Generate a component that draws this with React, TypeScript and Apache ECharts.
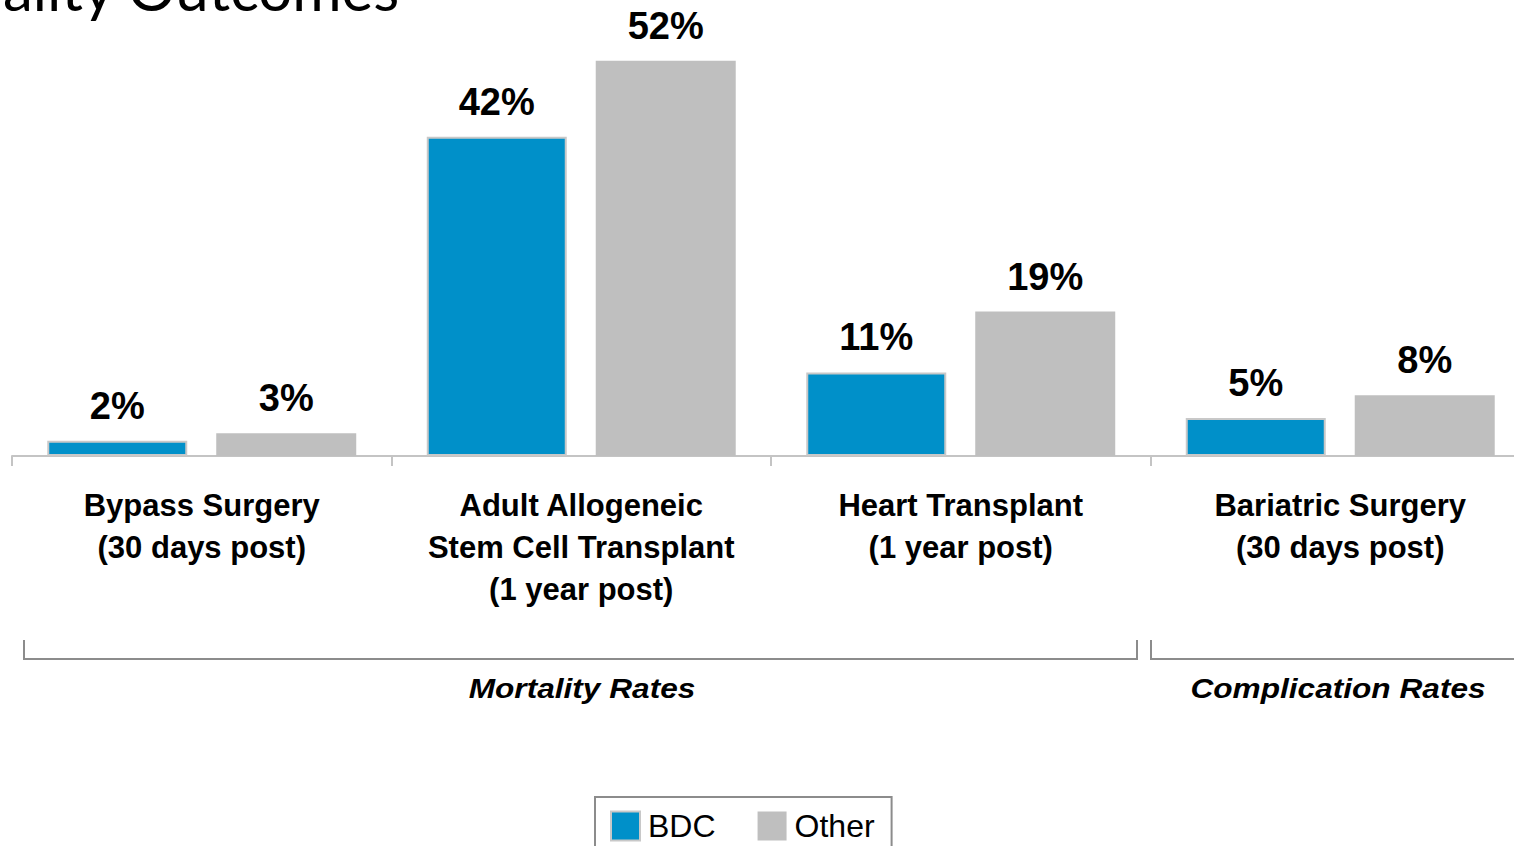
import React, { useEffect, useRef } from "react";
import * as echarts from "echarts";

const categories = [
  "Bypass Surgery\n(30 days post)",
  "Adult Allogeneic\nStem Cell Transplant\n(1 year post)",
  "Heart Transplant\n(1 year post)",
  "Bariatric Surgery\n(30 days post)",
];
const bdcValues = [2, 42, 11, 5];
const otherValues = [3, 52, 19, 8];
const seriesNames = ["BDC", "Other"];
const groupLabels = ["Mortality Rates", "Complication Rates"];
const titleText = "Quality Outcomes";

const FONT = "'Liberation Sans', Arial, Helvetica, sans-serif";

export default function App() {
  const ref = useRef<HTMLDivElement>(null);
  useEffect(() => {
    if (!ref.current) return;
    const chart = echarts.init(ref.current, null, { renderer: "svg" });
    const labelStyle = {
      show: true,
      position: "top",
      distance: 16,
      formatter: "{c}%",
      fontFamily: FONT,
      fontSize: 38,
      fontWeight: "bold",
      color: "#000",
    };
    const bracketStyle = { stroke: "#8c8c8c", lineWidth: 2, fill: null };
    const groupTextStyle = {
      fontFamily: FONT,
      fontSize: 28,
      fontWeight: "bold",
      fontStyle: "italic",
      fill: "#000",
      align: "center",
      verticalAlign: "middle",
    };
    chart.setOption({
      animation: false,
      backgroundColor: "#fff",
      textStyle: { fontFamily: FONT },
      grid: { left: 12, right: 0, top: 0, bottom: 390, containLabel: false },
      legend: {
        data: seriesNames,
        left: 595,
        top: 797,
        orient: "horizontal",
        itemWidth: 29,
        itemHeight: 29,
        itemGap: 42,
        icon: "rect",
        borderColor: "#8c8c8c",
        borderWidth: 2,
        padding: [13, 17, 13, 15],
        textStyle: {
          fontFamily: FONT,
          fontSize: 32,
          color: "#000",
          padding: [0, 0, 0, 3],
        },
      },
      xAxis: {
        type: "category",
        data: categories,
        axisLine: { show: true, lineStyle: { color: "#c4c4c4", width: 2 } },
        axisTick: {
          show: true,
          alignWithLabel: false,
          length: 10,
          lineStyle: { color: "#c4c4c4", width: 2 },
        },
        axisLabel: {
          interval: 0,
          margin: 28,
          fontFamily: FONT,
          fontSize: 31,
          fontWeight: "bold",
          lineHeight: 42,
          color: "#000",
        },
      },
      yAxis: {
        type: "value",
        min: 0,
        max: 60,
        show: false,
        splitLine: { show: false },
      },
      series: [
        {
          name: seriesNames[0],
          type: "bar",
          data: bdcValues,
          barWidth: 140,
          barGap: "20.7%",
          itemStyle: { color: "#0090c9", borderColor: "#c8c8c8", borderWidth: 2 },
          label: labelStyle,
        },
        {
          name: seriesNames[1],
          type: "bar",
          data: otherValues,
          barWidth: 140,
          barGap: "20.7%",
          itemStyle: { color: "#bfbfbf" },
          label: labelStyle,
        },
      ],
      graphic: [
        {
          type: "text",
          left: -78,
          top: -42,
          style: {
            text: titleText,
            fontFamily: "Lato, 'Open Sans', sans-serif",
            fontSize: 60,
            fill: "#000",
          },
        },
        {
          type: "polyline",
          shape: { points: [[24, 640], [24, 659], [1137, 659], [1137, 640]] },
          style: bracketStyle,
        },
        {
          type: "polyline",
          shape: { points: [[1151, 640], [1151, 659], [1530, 659]] },
          style: bracketStyle,
        },
        {
          type: "text",
          x: 582,
          y: 688,
          scaleX: 1.13,
          style: { text: groupLabels[0], ...groupTextStyle },
        },
        {
          type: "text",
          x: 1338,
          y: 688,
          scaleX: 1.13,
          style: { text: groupLabels[1], ...groupTextStyle },
        },
      ],
    });
    return () => chart.dispose();
  }, []);
  return (
    <div
      style={{
        position: "absolute",
        left: 0,
        top: 0,
        width: 1514,
        height: 846,
        overflow: "hidden",
      }}
    >
      <div ref={ref} style={{ width: 1530, height: 846 }} />
    </div>
  );
}
